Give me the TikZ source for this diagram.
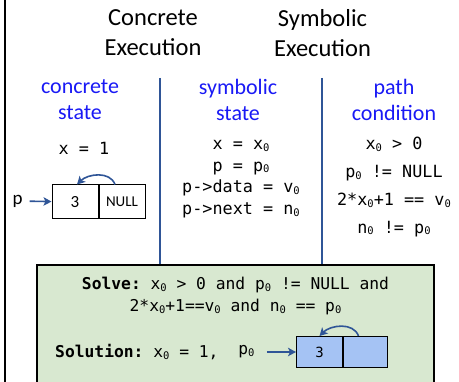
\documentclass[tikz,border=0pt]{standalone}
\usepackage{fontspec}
\setmainfont{Carlito}
\setmonofont{DejaVu Sans Mono}
\usetikzlibrary{arrows.meta}

\definecolor{arrowblue}{RGB}{47,85,151}
\definecolor{solvegreen}{RGB}{216,232,208}
\definecolor{cellblue}{RGB}{165,195,244}
\definecolor{headblue}{RGB}{25,25,245}

% kleine Null als Index
\newcommand{\zsub}{{\fontsize{10.5}{10.5}\selectfont\raisebox{-1.8pt}{0}}}

\begin{document}
\begin{tikzpicture}[x=1pt, y=1pt]
  \tikzset{
    title_node/.style={align=center, font=\fontsize{24.5}{30}\selectfont},
    head_node/.style={align=center, text=headblue, font=\fontsize{22}{26}\selectfont},
    code_node/.style={align=center, inner sep=2pt, font=\ttfamily\fontsize{16.8}{21.6}\selectfont},
    cell_node/.style={draw, line width=1pt, minimum width=46pt, minimum height=34pt, inner sep=0pt},
    blue_cell/.style={cell_node, fill=cellblue, minimum height=31pt},
    ptr/.style={draw=arrowblue, line width=1.6pt, -{Stealth[length=8pt, width=8.5pt, inset=2pt]}},
    divider/.style={draw=arrowblue, line width=2pt}
  }

  \useasboundingbox (0,0) rectangle (459,-382);

  % Rand links
  \draw[line width=2.5pt] (5,2) -- (5,-390);

  % Ueberschriften
  \node[title_node] (concrete) at (153,-33) {Concrete\\Execution};
  \node[title_node] (symbolic) at (322.5,-33) {Symbolic\\Execution};

  % Spaltenkoepfe
  \node[head_node] (cstate) at (80,-100) {concrete\\state};
  \node[head_node] (sstate) at (238,-100) {symbolic\\state};
  \node[head_node] (pathcond) at (394,-100) {path\\condition};

  % Loesungskasten (unten abgeschnitten)
  \node[draw, line width=2.2pt, fill=solvegreen, minimum width=397pt, minimum height=140pt,
        inner sep=0pt] (solvebox) at (235.5,-335) {};

  % Trennlinien
  \coordinate (div_a) at (160,-78);
  \coordinate (div_b) at (322,-78);
  \draw[divider] (div_a) -- (div_a |- solvebox.north);
  \draw[divider] (div_b) -- (div_b |- solvebox.north);

  % konkreter Zustand
  \node[code_node] (xval) at (84,-148) {x = 1};
  \node[cell_node] (cell_three) at (75,-202) {\fontsize{17}{17}\selectfont 3};
  \node[cell_node, minimum width=46pt, anchor=west] (cell_null) at (cell_three.east) {\fontsize{15}{15}\selectfont NULL};
  \node[font=\fontsize{19}{19}\selectfont, inner sep=2pt] (p) at (17.5,-201) {p};
  \draw[ptr, shorten <=5pt] (p) -- (cell_three);
  \draw[ptr] ([xshift=-7pt]cell_null.north) to[out=110, in=45] ([xshift=2pt]cell_three.north);

  % symbolischer Zustand
  \node[code_node] (symvals) at (241,-179)
    {x = x\zsub\\p = p\zsub\\p->data = v\zsub\\p->next = n\zsub};

  % Pfadbedingung
  \node[code_node, font=\ttfamily\fontsize{16.8}{27.7}\selectfont] (pc) at (394,-187)
    {x\zsub{} > 0\\p\zsub{} != NULL\\2*x\zsub+1 == v\zsub\\n\zsub{} != p\zsub};

  % Solve
  \node[code_node, font=\ttfamily\fontsize{16.3}{22}\selectfont] (solve) at (235.5,-296)
    {\textbf{Solve:} x\zsub{} > 0 and p\zsub{} != NULL and\\2*x\zsub+1==v\zsub{} and n\zsub{} == p\zsub};

  % Solution
  \node[code_node, font=\ttfamily\fontsize{16.3}{22}\selectfont, anchor=west] (solution) at (53,-352)
    {\textbf{Solution:} x\zsub{} = 1,};
  \node[code_node, font=\ttfamily\fontsize{16.3}{22}\selectfont] (p_zero) at (246.5,-352) {p\zsub};
  \node[blue_cell] (sol_three) at (319.5,-352) {\ttfamily\fontsize{14}{14}\selectfont 3};
  \node[blue_cell, minimum width=44pt, anchor=west] (sol_next) at (sol_three.east) {};
  \draw[ptr, shorten <=10pt] (p_zero) -- (sol_three);
  \draw[ptr] ([xshift=-7pt]sol_next.north) to[out=110, in=45] ([xshift=0pt]sol_three.north);
\end{tikzpicture}
\end{document}
